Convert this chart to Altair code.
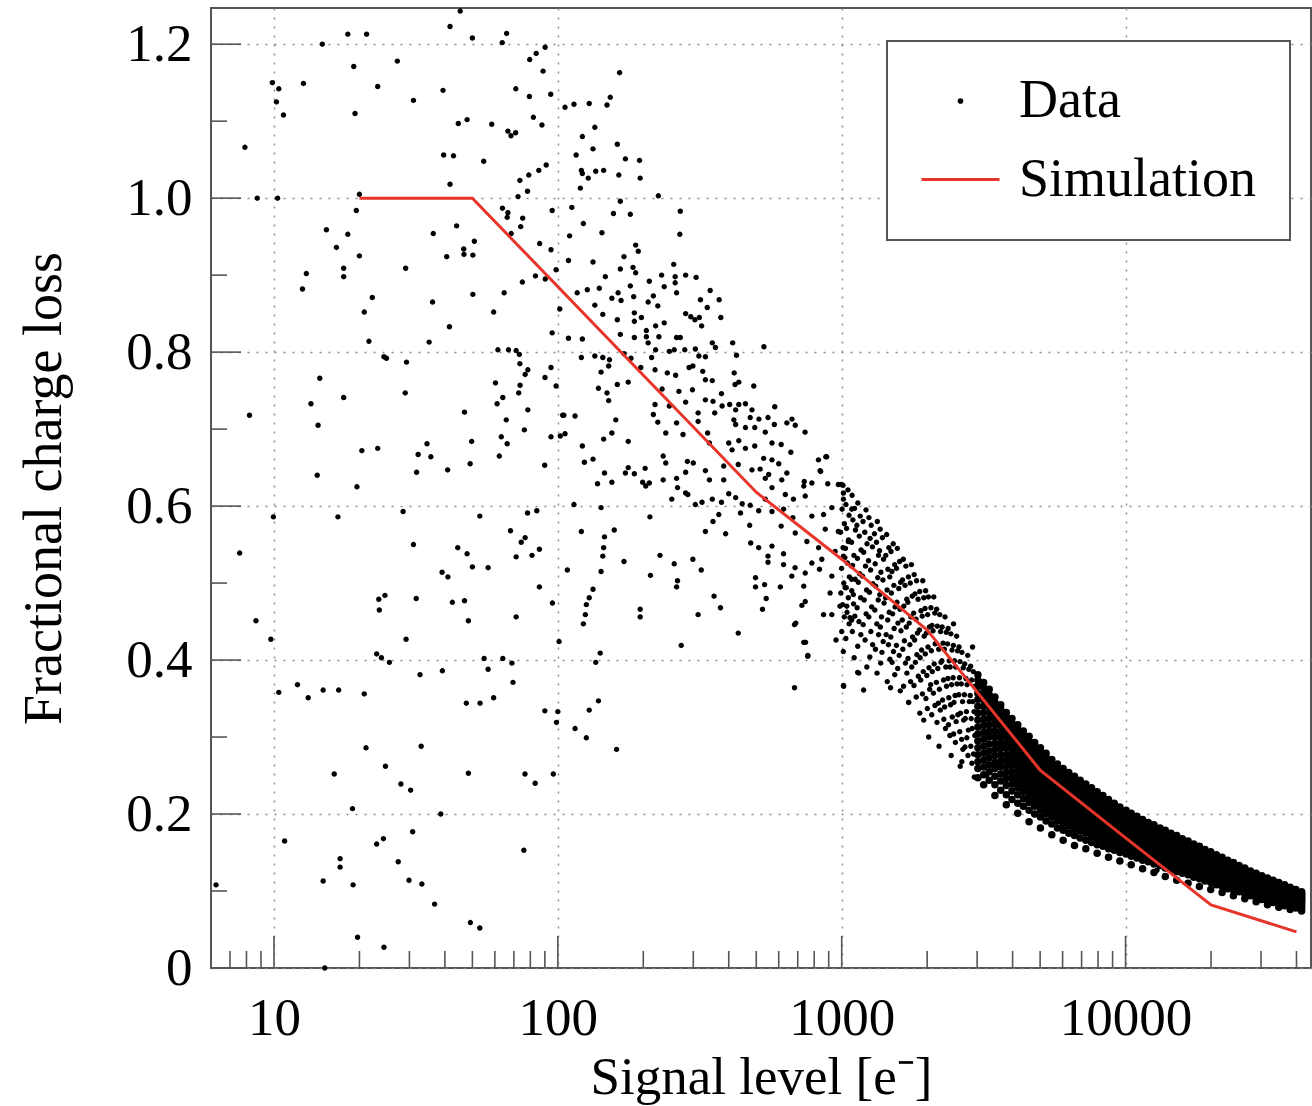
import altair as alt
import pandas as pd

FONT = "Liberation Serif"
RED = "#e8352b"
TICK = "#555555"

# ---------------- data: individual measured points (signal [e-], fractional loss) -------------
pts_low_signal = [
    (45.3,1.243),(41.7,1.223),(18.2,1.213),(21.2,1.213),(50,1.208),(66,1.214),(63.7,1.202),(14.8,1.2),
    (79.6,1.18),(83.9,1.188),(90.2,1.196),(19.1,1.171),(27.2,1.178),(88.7,1.165),(9.87,1.15),(10.4,1.142),
    (12.7,1.149),(23.2,1.145),(39.4,1.14),(71.1,1.142),(79.4,1.132),(94.4,1.135),(10.2,1.125),(31,1.127),
    (10.8,1.108),(19.3,1.11),(44.6,1.097),(47.9,1.102),(58.5,1.096),(82,1.105),(87.9,1.095),(66.7,1.087),
    (71,1.085),(68.4,1.081),(7.9,1.066),(39.6,1.056),(42.9,1.055),(54.8,1.048),(91,1.043),(85.7,1.036),
    (73.5,1.023),(79,1.03),(78.2,1.009),(72.4,1.002),(41.7,1.018),(8.73,1.0),(10.3,1.0),(20,1.005),
    (19.5,0.984),(95.5,0.984),(63.8,0.987),(66.7,0.981),(66.3,0.975),(75.2,0.974),(74,0.963),(44,0.964),
    (15.3,0.959),(18.2,0.953),(36.4,0.954),(68.5,0.954),(16.6,0.936),(50.8,0.944),(46.6,0.934),(46.7,0.927),
    (50.2,0.926),(40.6,0.924),(20,0.925),(86.3,0.941),(94.6,0.933),(17.6,0.909),(17.6,0.898),(13,0.902),
    (29.1,0.909),(12.6,0.882),(83.4,0.899),(90.3,0.895),(98.6,0.907),(75,0.891),(64.7,0.877),(50.2,0.875),
    (22.2,0.871),(36.2,0.865),(20.8,0.852),(59.4,0.852),(101.6,0.856),(41.5,0.833),(95.5,0.825),(21.6,0.814),
    (35.2,0.813),(61.5,0.803),(67,0.803),(71.3,0.802),(73.2,0.797),(24.4,0.794),(24.9,0.792),(29.3,0.787),
    (73.5,0.785),(78.4,0.777),(76.7,0.771),(94.6,0.78),(90.1,0.767),(98.6,0.756),(14.5,0.766),(60.3,0.76),
    (73.6,0.757),(72.8,0.747),(29,0.747),(17.6,0.741),(64,0.741),(61.1,0.733),(13.5,0.733),(46.9,0.722),
    (78.4,0.725),(104,0.718),(8.2,0.718),(65.8,0.712),(14.3,0.705),(76.2,0.699),(63.2,0.69),(66.3,0.681),
    (94.6,0.69),(49.7,0.684),(34.6,0.681),(20.4,0.672),(23.2,0.675),(32.2,0.667),(35.7,0.664),(62.2,0.665),
    (49.1,0.655),(14.2,0.64),(31.8,0.644),(40.9,0.647),(89.9,0.653),(19.6,0.625),
    (9.95,0.586),(16.8,0.586),(28.5,0.593),(53.1,0.587),(78.2,0.591),(84.3,0.594),(7.57,0.539),(31,0.55),
    (44.4,0.546),(47.9,0.538),(68.1,0.568),(74.3,0.553),(76.7,0.559),(71.3,0.534),(81.1,0.536),(86.1,0.544),
    (39.1,0.514),(41,0.508),(50,0.521),(56.8,0.52),(86.1,0.495),(23.4,0.479),(24.6,0.484),(31.7,0.48),
    (42.5,0.475),(46.9,0.477),(23.5,0.465),(95.7,0.474),(8.64,0.451),(48.4,0.451),(71.3,0.456),(9.75,0.427),
    (29.2,0.427),(101,0.424),(23,0.408),(23.9,0.403),(25.5,0.397),(55,0.402),(64,0.402),(68.9,0.396),
    (56.8,0.388),(39.2,0.386),(32.7,0.381),(69.5,0.371),(10.4,0.358),(12.1,0.368),(13.2,0.351),(14.9,0.361),
    (16.9,0.361),(20.8,0.356),(47.6,0.344),(53.2,0.344),(59.4,0.351),(90,0.334),(100,0.333),(98.9,0.319),
    (21.1,0.286),(33,0.288),(24.7,0.262),(16.3,0.252),(48.4,0.253),(76.6,0.252),(83.2,0.24),(96.4,0.252),
    (28,0.239),(30.3,0.231),(18.9,0.207),(38.7,0.2),(10.9,0.165),(30.8,0.177),(23,0.161),(24.3,0.168),
    (17.1,0.142),(17.1,0.131),(27.4,0.138),(75.9,0.153),(14.9,0.113),(19,0.108),(29.9,0.114),(33.2,0.109),
    (6.25,0.108),(36.8,0.083),(49.2,0.059),(53.1,0.052),(19.7,0.04),(24.4,0.027),(15.1,0.0),
]

pts_mid_signal = [
    (165,1.163),(106,1.118),(114,1.122),(129,1.123),(149,1.121),(153,1.131),(135,1.092),(122,1.08),
    (162,1.07),(133,1.064),(116,1.056),(173,1.051),(194,1.049),(195,1.026),(121,1.036),(122,1.032),
    (128,1.026),(136,1.035),(145,1.036),(164,1.03),(120,1.013),(226,1.003),(166,0.996),(112,0.988),
    (157,0.98),(180,0.979),(270,0.983),(269,0.953),(123,0.967),(143,0.955),(110,0.951),(188,0.939),
    (192,0.931),(171,0.924),(109,0.919),(133,0.917),(256,0.914),(166,0.908),(184,0.91),(188,0.903),
    (232,0.9),(259,0.898),(282,0.9),(307,0.897),(147,0.898),(210,0.892),(259,0.89),(180,0.886),
    (237,0.885),(262,0.877),(344,0.88),(117,0.877),(127,0.881),(140,0.883),(163,0.877),(155,0.87),
    (167,0.867),(185,0.872),(217,0.873),(208,0.865),(225,0.86),(318,0.868),(370,0.868),(336,0.858),
    (135,0.861),(144,0.849),(162,0.842),(186,0.851),(186,0.84),(197,0.845),(221,0.834),(237,0.838),
    (282,0.85),(294,0.846),(304,0.842),(315,0.845),(321,0.834),(375,0.845),(205,0.828),(166,0.823),
    (186,0.819),(205,0.82),(208,0.812),(227,0.82),(262,0.819),(270,0.819),(122,0.817),(109,0.818),
    (350,0.812),(413,0.812),(532,0.807),(121,0.793),(135,0.795),(144,0.793),(152,0.79),(171,0.798),
    (181,0.792),(214,0.793),(221,0.803),(247,0.801),(257,0.803),(280,0.803),(305,0.804),(314,0.795),
    (331,0.794),(359,0.806),(426,0.796),(142,0.774),(151,0.782),(196,0.78),(220,0.777),(243,0.773),
    (260,0.77),(290,0.78),(299,0.782),(324,0.775),(331,0.764),(350,0.763),(418,0.773),(434,0.761),
    (421,0.758),(490,0.756),(177,0.761),(162,0.758),(139,0.753),(149,0.747),(151,0.737),(233,0.752),
    (267,0.749),(298,0.751),(377,0.746),(220,0.732),(247,0.73),(282,0.735),(331,0.738),(352,0.736),
    (379,0.73),(403,0.732),(423,0.725),(434,0.732),(458,0.733),(483,0.725),(581,0.729),(105,0.718),
    (115,0.717),(160,0.712),(217,0.719),(225,0.709),(240,0.695),(262,0.708),(276,0.693),(312,0.71),
    (312,0.721),(357,0.721),(417,0.712),(423,0.706),(476,0.715),(511,0.713),(550,0.715),(579,0.706),
    (641,0.708),(668,0.713),(686,0.705),(743,0.696),(458,0.702),(494,0.702),(538,0.696),(102,0.691),
    (106,0.694),(155,0.695),(145,0.687),(177,0.684),(337,0.695),(342,0.682),(400,0.682),(434,0.685),
    (411,0.673),(458,0.675),(494,0.678),(568,0.682),(612,0.68),(662,0.67),(531,0.662),(568,0.66),
    (600,0.655),(828,0.66),(879,0.664),(122,0.678),(124,0.657),(133,0.661),(235,0.665),(240,0.656),
    (286,0.658),(300,0.656),(384,0.652),(432,0.654),(483,0.647),(516,0.648),(553,0.641),(641,0.643),
    (839,0.646),(146,0.643),(173,0.643),(186,0.642),(203,0.649),(177,0.65),(282,0.644),(331,0.646),
    (138,0.629),(155,0.631),(199,0.631),(235,0.634),(262,0.636),(342,0.634),(384,0.634),(538,0.636),
    (615,0.634),(738,0.632),(785,0.63),(893,0.629),(973,0.628),
    (114,0.602),(142,0.598),(121,0.567),(158,0.569),(146,0.56),(145,0.546),(144,0.535),(142,0.515),
    (108,0.517),(133,0.492),(129,0.481),(126,0.472),(125,0.459),(123,0.447),(171,0.528),(212,0.51),
    (211,0.586),(229,0.536),(257,0.525),(264,0.503),(262,0.495),(299,0.531),(320,0.517),(195,0.466),
    (195,0.456),(312,0.459),(355,0.483),(374,0.468),(272,0.419),(432,0.435),(141,0.409),(136,0.397),
    (139,0.347),(129,0.335),(115,0.311),(126,0.299),(161,0.284),(682,0.446),(738,0.423),(760,0.406),
    (955,0.426),(682,0.364),(1014,0.367),(1138,0.384),(497,0.507),(497,0.495),(535,0.498),(608,0.495),
    (542,0.48),(526,0.466),(550,0.527),(390,0.564),(331,0.567),(352,0.58),(369,0.589),(305,0.602),
    (322,0.605),(252,0.609),(264,0.624),(282,0.617),(287,0.615),(204,0.626),(210,0.63),(350,0.609),
    (400,0.616),(377,0.605),(423,0.611),(446,0.603),(440,0.591),(474,0.575),(476,0.601),(510,0.594),
    (538,0.609),(568,0.593),(624,0.596),(673,0.585),(612,0.574),(478,0.552),(510,0.546),(568,0.548),
    (550,0.535),(624,0.538),(624,0.524),(685,0.52),(667,0.509),(735,0.496),(744,0.513),(744,0.476),
    (724,0.471),(785,0.526),(835,0.518),(851,0.531),(829,0.546),(754,0.554),(686,0.565),(676,0.609),
    (744,0.613),(735,0.626),(633,0.615),(568,0.624),(863,0.589),(923,0.598),(1014,0.617),(785,0.587),
    (875,0.57),(973,0.567),(1055,0.554),(948,0.541),(1014,0.535),(1084,0.522),(923,0.509),(1028,0.494),
    (1084,0.505),(910,0.487),(1099,0.485),(863,0.459),(923,0.459),(986,0.47),(1042,0.47),(1084,0.452),
    (1069,0.455),
]

pts_outliers = [
    (2650,0.268),(3236,0.25),(4200,0.214),(5710,0.19),(5960,0.183),(8710,0.156),(12900,0.127),
    (1945,0.322),(1720,0.345),(1486,0.364),(1194,0.361),(1148,0.383),(1016,0.366),(746,0.423),
    (689,0.448),(735,0.423),(759,0.405),(885,0.664),(843,0.645),(1085,0.596),(1011,0.627),
    (2890,0.417),(2477,0.447),
]

# band between 1000 and 3000 e-: (signal, loss in thousandths)
pts_band_spread = [
    (995,628),(1014,609),(1003,596),(1022,577),(990,566),(1011,546),(1026,533),(999,519),(1017,500),(993,487),(1008,472),(1021,456),(1000,437),(1013,411),
    (1052,621),(1035,602),(1061,588),(1040,571),(1057,556),(1031,545),(1048,526),(1064,508),(1038,494),(1055,481),(1044,462),(1062,447),(1034,428),
    (1088,614),(1110,597),(1095,582),(1118,569),(1083,553),(1104,536),(1092,523),(1115,505),(1085,490),(1101,473),(1112,457),(1090,437),(1106,403),
    (1140,604),(1162,587),(1131,575),(1153,561),(1170,543),(1136,532),(1158,512),(1144,501),(1166,481),(1133,468),(1150,450),(1168,433),(1139,418),
    (1218,595),(1189,580),(1206,566),(1228,551),(1195,540),(1213,522),(1184,509),(1224,491),(1200,478),(1219,460),(1190,446),(1209,426),(1226,391),
    (1247,585),(1270,575),(1259,558),(1283,547),(1243,529),(1264,517),(1288,499),(1253,488),(1275,469),(1246,456),(1267,437),(1285,420),(1256,404),
    (1335,580),(1304,564),(1326,553),(1348,536),(1312,525),(1339,507),(1318,496),(1345,478),(1308,465),(1330,447),(1349,433),(1315,414),(1332,383),
    (1366,570),(1391,559),(1359,542),(1404,531),(1374,514),(1397,504),(1362,485),(1410,474),(1381,456),(1368,443),(1400,424),(1386,410),(1372,396),
    (1440,563),(1466,546),(1430,536),(1455,518),(1477,508),(1445,491),(1428,481),(1470,462),(1452,452),(1434,433),(1461,420),(1479,401),(1447,372),
    (1519,551),(1492,541),(1537,524),(1503,515),(1527,497),(1496,487),(1542,469),(1511,460),(1530,441),(1489,430),(1522,411),(1505,397),(1538,381),
    (1570,545),(1600,528),(1560,519),(1612,501),(1589,493),(1566,475),(1604,466),(1578,448),(1617,438),(1559,419),(1594,406),(1575,389),(1608,360),
    (1648,531),(1683,522),(1638,504),(1671,497),(1695,479),(1655,470),(1634,452),(1689,443),(1663,425),(1642,414),(1677,396),(1697,383),(1652,366),
    (1760,524),(1718,508),(1744,500),(1772,483),(1710,475),(1753,456),(1729,448),(1777,430),(1738,420),(1713,402),(1765,391),(1748,372),(1722,345),
    (1800,511),(1835,503),(1812,486),(1858,479),(1793,461),(1827,453),(1849,435),(1806,426),(1840,407),(1818,397),(1862,379),(1797,367),(1831,352),
    (1930,503),(1883,489),(1946,481),(1902,464),(1921,457),(1878,439),(1952,431),(1912,413),(1890,403),(1938,385),(1898,374),(1925,356),(1884,331),
    (1975,490),(2020,482),(1966,467),(2008,459),(2038,443),(1988,435),(2014,417),(1970,408),(2030,390),(1995,380),(2041,362),(1980,350),(2003,337),(2025,300),
    (2110,482),(2062,468),(2128,461),(2080,445),(2098,438),(2135,421),(2070,412),(2117,395),(2085,385),(2058,368),(2104,357),(2131,341),(2076,329),
    (2160,466),(2215,459),(2172,444),(2230,437),(2150,422),(2197,414),(2236,397),(2181,389),(2155,371),(2209,362),(2190,344),(2225,335),(2166,319),(2202,288),
    (2312,456),(2258,443),(2335,436),(2276,422),(2299,414),(2254,399),(2327,391),(2284,374),(2340,366),(2266,348),(2305,339),(2290,323),(2320,311),
    (2371,441),(2425,434),(2360,421),(2447,413),(2392,399),(2410,391),(2366,376),(2438,368),(2384,351),(2418,342),(2452,326),(2377,316),(2405,302),(2430,276),
    (2540,431),(2474,419),(2560,412),(2497,399),(2522,391),(2468,377),(2549,369),(2508,354),(2485,345),(2565,329),(2530,320),(2479,304),(2515,293),
    (2590,417),(2652,410),(2610,398),(2680,390),(2600,377),(2637,369),(2585,355),(2665,346),(2620,331),(2688,322),(2605,307),(2645,297),(2672,284),(2615,262),
    (2780,406),(2712,395),(2805,388),(2740,376),(2765,368),(2705,355),(2815,346),(2750,333),(2725,324),(2795,309),(2760,299),(2718,287),(2785,276),
    (2845,392),(2910,385),(2868,374),(2940,366),(2836,354),(2895,346),(2925,333),(2858,324),(2882,311),(2945,302),(2850,288),(2915,278),(2875,266),(2930,248),
]

# dense core of the band above 3000 e-: signal level -> losses (in thousandths)
band_core = {
    3018: [381, 374, 366, 357, 349, 340, 331, 322, 313, 304, 295, 286, 277, 268, 259, 247],
    3163: [371, 364, 356, 348, 340, 332, 323, 315, 306, 297, 288, 279, 270, 261, 251, 238],
    3309: [362, 355, 348, 340, 332, 324, 316, 308, 300, 291, 282, 273, 264, 255, 244],
    3466: [352, 345, 338, 331, 323, 316, 308, 300, 292, 284, 276, 267, 259, 249, 238, 224],
    3632: [342, 336, 329, 322, 315, 307, 300, 292, 285, 277, 269, 261, 252, 243, 231],
    3801: [332, 326, 319, 313, 306, 299, 292, 285, 277, 270, 262, 254, 246, 237, 225, 212],
    3979: [324, 318, 311, 305, 298, 291, 284, 277, 270, 263, 255, 247, 239, 230, 219],
    4171: [316, 310, 304, 297, 291, 284, 277, 271, 264, 257, 249, 242, 234, 225, 214, 201],
    4366: [308, 302, 296, 290, 284, 278, 271, 264, 258, 251, 244, 236, 229, 220, 210],
    4572: [301, 295, 289, 283, 277, 271, 265, 258, 252, 245, 238, 231, 223, 215, 205, 190],
    4785: [293, 288, 282, 276, 270, 264, 258, 252, 246, 239, 232, 225, 218, 210, 200],
    5013: [286, 281, 275, 269, 264, 258, 252, 246, 240, 234, 227, 220, 213, 205, 196, 182],
    5247: [279, 274, 268, 263, 257, 252, 246, 240, 234, 228, 222, 215, 208, 200, 191],
    5497: [271, 266, 261, 256, 251, 245, 240, 234, 228, 222, 216, 210, 203, 196, 187, 173],
    5753: [265, 260, 255, 250, 245, 240, 234, 229, 223, 217, 211, 205, 198, 191, 182],
    6027: [259, 254, 249, 244, 239, 234, 229, 224, 218, 213, 207, 201, 195, 188, 179, 166],
    6309: [254, 249, 244, 239, 234, 229, 224, 219, 214, 208, 203, 197, 191, 184, 175],
    6608: [249, 244, 239, 235, 230, 225, 220, 215, 210, 205, 199, 194, 188, 181, 172, 159],
    6919: [244, 239, 235, 230, 226, 221, 216, 211, 206, 201, 196, 190, 184, 178, 169],
    7243: [239, 234, 230, 226, 221, 217, 212, 207, 202, 197, 192, 187, 181, 175, 166, 155],
    7587: [234, 229, 225, 221, 217, 212, 208, 203, 198, 193, 188, 183, 178, 171, 163],
    7942: [229, 225, 221, 217, 212, 208, 204, 199, 195, 190, 185, 180, 175, 168, 160, 149],
    8319: [224, 220, 216, 212, 208, 204, 200, 196, 191, 187, 182, 177, 172, 166, 158],
    8709: [219, 215, 211, 207, 204, 200, 196, 192, 188, 183, 179, 174, 169, 163, 155, 144],
    9121: [214, 210, 207, 203, 199, 196, 192, 188, 184, 180, 175, 171, 166, 160, 153],
    9549: [209, 205, 202, 198, 195, 191, 188, 184, 180, 176, 172, 168, 163, 157, 150, 139],
    10040: [205, 201, 198, 194, 191, 188, 184, 180, 177, 173, 169, 165, 160, 155, 148],
    10470: [201, 197, 194, 190, 187, 184, 180, 177, 173, 170, 166, 162, 157, 152, 145, 134],
    10960: [197, 193, 190, 187, 184, 180, 177, 174, 170, 167, 163, 159, 155, 150, 143],
    11480: [193, 189, 186, 183, 180, 177, 174, 170, 167, 164, 160, 156, 152, 147, 140, 129],
    12020: [189, 186, 183, 180, 177, 174, 171, 168, 164, 161, 157, 154, 150, 145, 138],
    12590: [186, 183, 180, 177, 174, 171, 168, 165, 161, 158, 155, 151, 147, 142, 135, 124],
    13220: [182, 179, 176, 173, 170, 167, 164, 161, 158, 155, 152, 148, 144, 140, 133],
    13800: [179, 176, 173, 170, 167, 164, 161, 158, 155, 152, 149, 145, 141, 137, 130, 119],
    14450: [175, 172, 169, 167, 164, 161, 158, 155, 152, 149, 146, 143, 139, 134, 128],
    15140: [172, 169, 166, 163, 161, 158, 155, 152, 149, 146, 143, 140, 136, 132, 125, 114],
    15850: [168, 165, 163, 160, 157, 155, 152, 149, 146, 143, 140, 137, 134, 129, 123],
    16600: [165, 162, 159, 157, 154, 151, 149, 146, 143, 140, 137, 134, 131, 127, 121, 110],
    17380: [161, 158, 156, 153, 151, 148, 145, 143, 140, 137, 134, 131, 128, 124, 118],
    18200: [158, 155, 152, 150, 147, 145, 142, 140, 137, 134, 131, 128, 125, 121, 116, 106],
    19050: [154, 151, 149, 147, 144, 142, 139, 137, 134, 131, 129, 126, 123, 119, 113],
    19950: [151, 148, 146, 143, 141, 139, 136, 134, 131, 128, 126, 123, 120, 116, 111, 102],
    20890: [147, 144, 142, 140, 138, 135, 133, 131, 128, 126, 123, 120, 117, 113, 108],
    21880: [144, 141, 139, 137, 134, 132, 130, 128, 125, 123, 120, 117, 114, 111, 106, 98],
    22910: [140, 138, 136, 133, 131, 129, 127, 125, 122, 120, 117, 115, 112, 108, 103],
    23990: [137, 134, 132, 130, 128, 126, 124, 122, 119, 117, 115, 112, 109, 106, 101, 94],
    25120: [133, 131, 129, 127, 125, 123, 121, 119, 116, 114, 112, 109, 107, 103, 99],
    26300: [130, 128, 126, 124, 122, 120, 118, 116, 113, 111, 109, 107, 104, 101, 96, 90],
    27540: [126, 124, 122, 120, 118, 116, 114, 112, 110, 108, 106, 104, 101, 98, 94],
    28840: [123, 121, 119, 117, 115, 113, 111, 109, 107, 105, 103, 101, 98, 95, 91, 86],
    30200: [120, 118, 116, 114, 112, 110, 108, 107, 105, 103, 101, 98, 96, 93, 89],
    31620: [117, 115, 113, 111, 109, 108, 106, 104, 102, 100, 98, 96, 94, 91, 87, 82],
    33110: [114, 112, 110, 108, 107, 105, 103, 101, 99, 98, 96, 94, 91, 89, 85],
    34670: [111, 109, 107, 106, 104, 102, 100, 99, 97, 95, 93, 91, 89, 87, 83, 79],
    36310: [108, 106, 104, 103, 101, 99, 98, 96, 94, 93, 91, 89, 87, 85, 81],
    38020: [105, 103, 102, 100, 98, 97, 95, 94, 92, 90, 89, 87, 85, 83, 79, 76],
    39810: [102, 100, 99, 97, 96, 94, 93, 91, 90, 88, 86, 85, 83, 81, 78],
    41690: [99, 98, 96, 95, 93, 92, 90, 89, 87, 86, 84, 82, 80, 77, 74],
}

# simulation curve
sim_signal = [20, 50, 500, 1000, 2000, 5000, 10000, 20000, 40000]
sim_loss = [1.0, 1.0, 0.618, 0.531, 0.439, 0.257, 0.169, 0.082, 0.047]

# axis ticks
x_major_ticks = [10, 100, 1000, 10000]
x_minor_ticks = [7, 8, 9, 20, 30, 40, 50, 60, 70, 80, 90, 200, 300, 400, 500, 600, 700, 800, 900,
                 2000, 3000, 4000, 5000, 6000, 7000, 8000, 9000, 20000, 30000, 40000]
y_major_ticks = [0, 0.2, 0.4, 0.6, 0.8, 1.0, 1.2]
y_minor_ticks = [0.1, 0.3, 0.5, 0.7, 0.9, 1.1]

series_names = ["Data", "Simulation"]

# ---------------- tables ----------------
rows = []
for sx, ly in pts_low_signal + pts_mid_signal + pts_outliers:
    rows.append({"signal": sx, "loss": ly, "series": "Data"})
for sx, ly in pts_band_spread:
    rows.append({"signal": sx, "loss": ly / 1000.0, "series": "Data"})
df_pts = pd.DataFrame(rows)

core_rows = []
for sx, ys in band_core.items():
    for ly in ys:
        core_rows.append({"signal": sx, "loss": ly / 1000.0, "series": "Data"})
df_core = pd.DataFrame(core_rows)
df_sim = pd.DataFrame({"signal": sim_signal, "loss": sim_loss})

W, H = 1100, 960
xscale = alt.Scale(type="log", domain=[6, 45000], nice=False)
yscale = alt.Scale(domain=[0, 1.247], nice=False, zero=False)

xaxis = alt.Axis(values=x_major_ticks, format="d", labelFontSize=53, labelPadding=24,
                 title="Signal level [e\u207b]", titleFontSize=53, titleY=125,
                 titleBaseline="alphabetic", grid=True, labelFlush=False, labelOverlap=False)
yaxis = alt.Axis(values=y_major_ticks,
                 labelExpr="datum.value == 0 ? '0' : format(datum.value, '.1f')",
                 labelFontSize=53, labelPadding=19, title="Fractional charge loss",
                 titleFontSize=54, titleX=-151, titleY=480, titleAngle=270,
                 titleBaseline="alphabetic", titleAlign="center", grid=True,
                 labelFlush=False, labelOverlap=False)

X = lambda: alt.X("signal:Q", scale=xscale, axis=xaxis)
Y = lambda: alt.Y("loss:Q", scale=yscale, axis=yaxis)

legend = alt.Legend(title=None, orient="none", legendX=676, legendY=33,
                    labelFont=FONT, labelFontSize=54, labelColor="black", labelLimit=600,
                    strokeColor="#555555", fillColor="white", padding=33,
                    labelOffset=18, rowPadding=11, symbolStrokeWidth=3, symbolOpacity=1)

points = alt.Chart(df_pts).mark_point(filled=False, strokeWidth=2.8, opacity=1).encode(
    x=X(), y=Y(),
    color=alt.Color("series:N", scale=alt.Scale(domain=series_names, range=["black", RED]), legend=legend),
    shape=alt.Shape("series:N", scale=alt.Scale(domain=series_names, range=["circle", "stroke"]), legend=legend),
    size=alt.Size("series:N", scale=alt.Scale(domain=series_names, range=[7, 6084]), legend=legend),
)

core = alt.Chart(df_core).mark_circle(size=56, opacity=1, color="black").encode(x=X(), y=Y())

line = alt.Chart(df_sim).mark_line(color=RED, strokeWidth=3).encode(x=X(), y=Y())

def yticks(vals, length):
    return alt.Chart(pd.DataFrame({"loss": vals})).mark_rule(color=TICK, strokeWidth=1.6).encode(
        y=Y(), x=alt.value(0), x2=alt.value(length))

def xticks(vals, length):
    return alt.Chart(pd.DataFrame({"signal": vals})).mark_rule(color=TICK, strokeWidth=1.6).encode(
        x=X(), y=alt.value(H), y2=alt.value(H - length))

chart = alt.layer(
    points, core, line,
    yticks(y_major_ticks, 30), yticks(y_minor_ticks, 16),
    xticks(x_major_ticks, 32), xticks(x_minor_ticks, 17),
).properties(
    width=W, height=H, autosize="none",
    padding={"left": 211, "top": 8, "right": 1, "bottom": 138},
    background="white",
).configure_view(
    stroke="#555555", strokeWidth=2
).configure_axis(
    gridDash=[2, 7], gridColor="#8c8c8c", gridWidth=1.4, gridOpacity=1,
    labelFont=FONT, titleFont=FONT, labelColor="black", titleColor="black",
    titleFontWeight="normal", domain=False, ticks=False, tickSize=0,
).configure_legend(
    strokeWidth=2
)

chart.save("out.html", embed_options={"renderer": "svg", "actions": False})
